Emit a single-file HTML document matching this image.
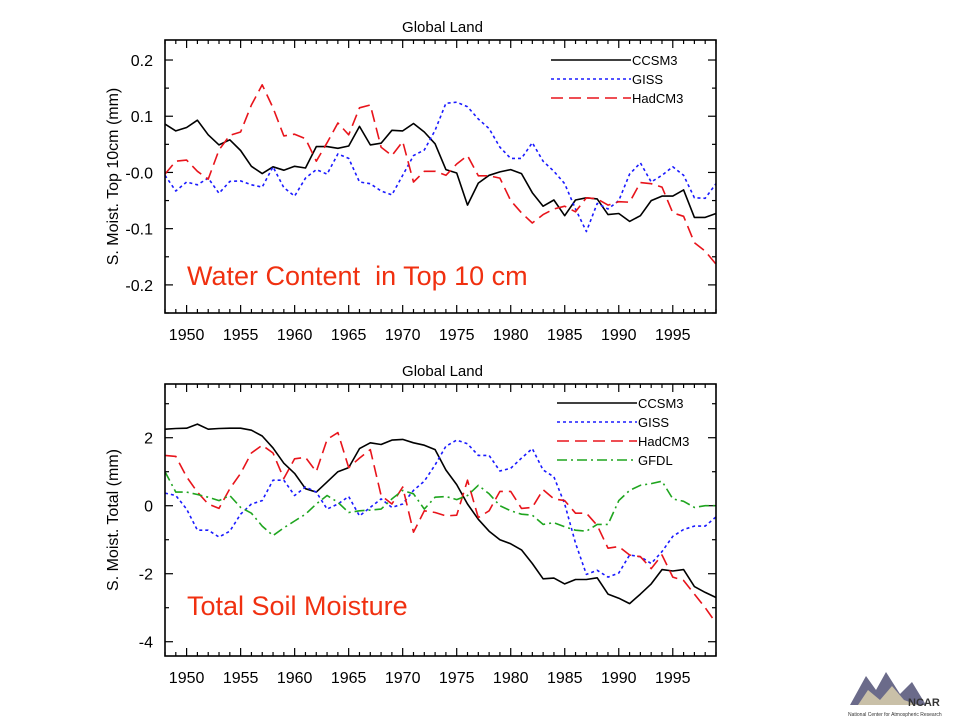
<!DOCTYPE html>
<html><head><meta charset="utf-8"><style>
body{margin:0;background:#fff;width:960px;height:720px;overflow:hidden;font-family:"Liberation Sans",sans-serif}
svg text{font-family:"Liberation Sans",sans-serif}
</style></head><body>
<svg id="c" width="960" height="720"></svg>
<script>
const years=[];for(let y=1948;y<=1999;y++)years.push(y);
const topCCSM3=[0.086,0.074,0.08,0.093,0.067,0.049,0.058,0.039,0.011,-0.002,0.01,0.004,0.011,0.008,0.046,0.046,0.043,0.047,0.082,0.049,0.052,0.075,0.074,0.087,0.072,0.051,0.005,-0.001,-0.058,-0.019,-0.005,0.001,0.005,-0.002,-0.036,-0.06,-0.049,-0.077,-0.049,-0.045,-0.047,-0.075,-0.073,-0.087,-0.077,-0.05,-0.042,-0.042,-0.031,-0.08,-0.08,-0.073];
const topGISS=[-0.005,-0.033,-0.017,-0.022,-0.01,-0.037,-0.016,-0.015,-0.022,-0.026,0.01,-0.027,-0.042,-0.01,0.005,-0.003,0.033,0.025,-0.017,-0.02,-0.033,-0.04,-0.005,0.03,0.04,0.075,0.123,0.125,0.117,0.095,0.078,0.045,0.025,0.025,0.053,0.02,0.002,-0.02,-0.065,-0.105,-0.055,-0.065,-0.05,-0.003,0.017,-0.017,-0.005,0.01,-0.005,-0.045,-0.046,-0.02];
const topHad=[-0.003,0.02,0.022,0.002,-0.012,0.04,0.066,0.072,0.12,0.156,0.115,0.065,0.068,0.06,0.02,0.053,0.088,0.067,0.115,0.12,0.045,0.03,0.055,-0.017,0.002,0.002,-0.005,0.015,0.03,-0.006,-0.006,-0.01,-0.05,-0.072,-0.09,-0.075,-0.065,-0.06,-0.07,-0.045,-0.047,-0.058,-0.052,-0.053,-0.018,-0.02,-0.026,-0.072,-0.078,-0.125,-0.14,-0.163];
const botCCSM3=[2.25,2.27,2.28,2.4,2.25,2.27,2.28,2.28,2.22,2.05,1.7,1.25,0.95,0.5,0.4,0.7,1.0,1.12,1.68,1.85,1.8,1.93,1.95,1.85,1.78,1.65,1.05,0.62,0.05,-0.4,-0.75,-1.0,-1.12,-1.3,-1.7,-2.15,-2.13,-2.3,-2.17,-2.17,-2.12,-2.6,-2.72,-2.88,-2.6,-2.3,-1.88,-1.92,-1.88,-2.38,-2.55,-2.7];
const botGISS=[0.37,0.3,-0.1,-0.72,-0.72,-0.92,-0.75,-0.25,0.05,0.15,0.75,0.75,0.3,0.55,0.4,-0.1,0.05,0.27,-0.3,-0.05,0.2,-0.05,0.05,0.45,0.72,1.2,1.75,1.93,1.82,1.48,1.48,1.02,1.1,1.4,1.68,1.05,0.85,0.05,-1.1,-2.02,-1.9,-2.1,-1.98,-1.45,-1.5,-1.7,-1.35,-0.9,-0.7,-0.6,-0.6,-0.33];
const botHad=[1.48,1.45,0.85,0.4,0.05,-0.08,0.5,0.95,1.55,1.78,1.55,0.8,1.38,1.42,1.0,1.95,2.15,1.12,1.4,1.65,0.3,0.05,0.55,-0.78,-0.15,-0.2,-0.3,-0.28,0.75,-0.35,-0.15,0.42,0.42,-0.08,-0.05,0.47,0.2,0.15,-0.22,-0.22,-0.58,-1.25,-1.2,-1.45,-1.5,-1.85,-1.45,-2.1,-2.2,-2.6,-3.0,-3.45];
const botGFDL=[1.0,0.4,0.4,0.33,0.25,0.15,0.3,-0.05,-0.22,-0.6,-0.88,-0.65,-0.45,-0.25,0.05,0.3,0.1,-0.2,-0.15,-0.13,-0.1,0.2,0.45,0.35,-0.1,0.25,0.27,0.18,0.3,0.6,0.35,0.0,-0.15,-0.25,-0.28,-0.55,-0.5,-0.62,-0.72,-0.75,-0.55,-0.55,0.15,0.45,0.6,0.65,0.72,0.2,0.13,-0.05,0.0,0.0];
const xTicks=[1950,1955,1960,1965,1970,1975,1980,1985,1990,1995];
const topYTicks=[0.2,0.1,0,-0.1,-0.2];
const topYLabels=["0.2","0.1","-0.0","-0.1","-0.2"];
const botYTicks=[2,0,-2,-4];
const botYLabels=["2","0","-2","-4"];
const names3=["CCSM3","GISS","HadCM3"],names4=["CCSM3","GISS","HadCM3","GFDL"];

const NS="http://www.w3.org/2000/svg",svg=document.getElementById('c');
function mk(t,a,p){const e=document.createElementNS(NS,t);for(const k in a)e.setAttribute(k,a[k]);(p||svg).appendChild(e);return e;}
const styles={CCSM3:{stroke:"#000",dash:""},GISS:{stroke:"#1a1aff",dash:"3,3"},HadCM3:{stroke:"#e8141b",dash:"12,6"},GFDL:{stroke:"#1fa51f",dash:"10,4,2,4"}};

function panel(cfg){
  const {L,R,T,B,ymin,ymax,ticks,labels,minor,series,names,ytitle,note,noteY,legX,legY,key}=cfg;
  const g=mk('g',{});
  const xs=y=>L+(y-1948)/(1999-1948)*(R-L);
  const ys=v=>T+(ymax-v)/(ymax-ymin)*(B-T);
  const t=mk('text',{x:(L+R)/2+2,y:T-8,'text-anchor':'middle','font-size':15},g);t.textContent="Global Land";
  
  for(let y=1948;y<=1999;y++){const maj=y%5==0;const l=maj?8:4;
    mk('line',{x1:xs(y),x2:xs(y),y1:B,y2:B-l,stroke:'#000','stroke-width':1.2},g);
    mk('line',{x1:xs(y),x2:xs(y),y1:T,y2:T+l,stroke:'#000','stroke-width':1.2},g);}
  xTicks.forEach(y=>{const e=mk('text',{x:xs(y),y:B+27,'text-anchor':'middle','font-size':16},g);e.textContent=y;
    });
  const mstart=Math.ceil(ymin/minor-1e-9);
  for(let i=mstart;i*minor<=ymax+1e-9;i++){const v=i*minor;const maj=ticks.some(tk=>Math.abs(tk-v)<1e-9);const l=maj?8:4;
    mk('line',{x1:L,x2:L+l,y1:ys(v),y2:ys(v),stroke:'#000','stroke-width':1.2},g);
    mk('line',{x1:R,x2:R-l,y1:ys(v),y2:ys(v),stroke:'#000','stroke-width':1.2},g);}
  ticks.forEach((v,i)=>{const e=mk('text',{x:L-12,y:ys(v)+6,'text-anchor':'end','font-size':16},g);e.textContent=labels[i];
    });
  const yt=mk('text',{x:0,y:0,'text-anchor':'middle','font-size':16,transform:`translate(${L-47},${(T+B)/2}) rotate(-90)`},g);yt.textContent=ytitle;
  
  series.forEach((s,si)=>{const n=names[si];const st=styles[n];
    const p=mk('polyline',{points:s.map((v,i)=>xs(years[i]).toFixed(1)+','+ys(v).toFixed(1)).join(' '),fill:'none',stroke:st.stroke,'stroke-width':1.6,'stroke-dasharray':st.dash,'stroke-linejoin':'round'},g);
    
    const ly=legY+si*19;
    const ll=mk('line',{x1:legX,x2:legX+80,y1:ly,y2:ly,stroke:st.stroke,'stroke-width':1.6,'stroke-dasharray':st.dash},g);
    
    const lt=mk('text',{x:legX+81,y:ly+5,'font-size':13},g);lt.textContent=n;
    });
  const fr=mk('rect',{x:L,y:T,width:R-L,height:B-T,fill:'none',stroke:'#000','stroke-width':1.6},g);
  
  const nt=mk('text',{x:L+22,y:noteY,'font-size':27,fill:'#f03010'},g);nt.textContent=note;
  
}
panel({key:'top',L:165,R:716,T:40,B:313,ymin:-0.25,ymax:0.2356,ticks:topYTicks,labels:topYLabels,minor:0.05,
  series:[topCCSM3,topGISS,topHad],names:names3,ytitle:"S. Moist. Top 10cm (mm)",note:"Water Content\u00a0 in Top 10 cm",noteY:285,legX:551,legY:60});
panel({key:'bottom',L:165,R:716,T:384,B:656,ymin:-4.42,ymax:3.58,ticks:botYTicks,labels:botYLabels,minor:1,
  series:[botCCSM3,botGISS,botHad,botGFDL],names:names4,ytitle:"S. Moist. Total (mm)",note:"Total Soil Moisture",noteY:615,legX:557,legY:403});
const lg=mk('g',{});
mk('polygon',{points:'850,705 866,676 876,690 886,672 900,694 912,682 926,705',fill:'#6b6b8a'},lg);
mk('polygon',{points:'858,705 868,690 880,700 892,686 904,700 918,705',fill:'#c9c0a8'},lg);
const n1=mk('text',{x:908,y:706,'font-size':11,'font-weight':'bold',fill:'#333'},lg);n1.textContent="NCAR";
const n2=mk('text',{x:848,y:716,'font-size':5,fill:'#333'},lg);n2.textContent="National Center for Atmospheric Research";
</script>
</body></html>
